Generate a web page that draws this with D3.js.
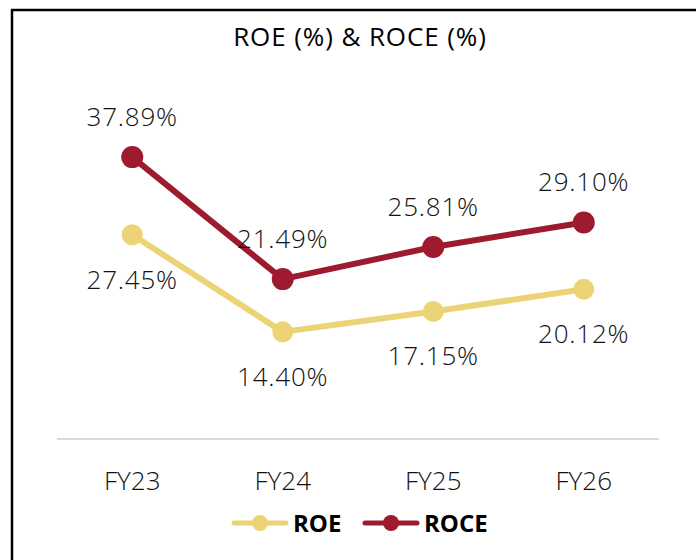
<!DOCTYPE html>
<html><head><meta charset="utf-8">
<script src="https://cdn.jsdelivr.net/npm/d3@7"></script>
<style>body{margin:0;background:#fff}svg{display:block}</style>
</head><body><svg id="c" width="696" height="560"></svg>
<script>
const categories = ["FY23","FY24","FY25","FY26"];
const roe = [27.45,14.40,17.15,20.12];
const roce = [37.89,21.49,25.81,29.10];
const seriesNames = ["ROE","ROCE"];
const title = "ROE (%) & ROCE (%)";

const svg = d3.select("#c");
const font = "'Open Sans', sans-serif";
const colors = {ROE:"#ecd476", ROCE:"#9e1a2e"};

svg.append("rect").attr("x",12).attr("y",10).attr("width",800).attr("height",700)
  .attr("fill","none").attr("stroke","#000").attr("stroke-width",2.5);

svg.append("text").attr("x",360).attr("y",46).attr("text-anchor","middle")
  .attr("font-family",font).attr("font-size",26).attr("letter-spacing",0.9).attr("fill","#000")
  .text(title);

const x = d3.scaleBand().domain(categories).range([57,659]);
const y = d3.scaleLinear().domain([0,40]).range([439,141.4]);
const cx = d => x(d) + x.bandwidth()/2;

svg.append("line").attr("x1",57).attr("x2",659).attr("y1",y(0)).attr("y2",y(0))
  .attr("stroke","#d9d9d9").attr("stroke-width",2);

const ax = svg.append("g").attr("transform",`translate(0,${y(0)})`)
  .call(d3.axisBottom(x).tickSize(0).tickPadding(0));
ax.select(".domain").remove();
ax.selectAll("text").attr("font-family",font).attr("font-size",26).attr("font-weight",350)
  .attr("fill","#111").attr("dy",0).attr("y",51);

const series = [
  {name:"ROE", values:roe, off:54},
  {name:"ROCE", values:roce, off:-31}
];
const line = d3.line().x((d,i)=>cx(categories[i])).y(d=>y(d));
series.forEach(s=>{
  const g = svg.append("g");
  g.append("path").attr("d",line(s.values)).attr("fill","none")
    .attr("stroke",colors[s.name]).attr("stroke-width",6).attr("stroke-linejoin","round");
  g.selectAll("circle").data(s.values).join("circle")
    .attr("cx",(d,i)=>cx(categories[i])).attr("cy",d=>y(d)).attr("r",s.name==="ROCE"?11:10.5)
    .attr("fill",colors[s.name]);
});
series.forEach(s=>{
  svg.append("g").selectAll("text").data(s.values).join("text")
    .attr("x",(d,i)=>cx(categories[i])).attr("y",d=>y(d)+s.off)
    .attr("text-anchor","middle").attr("font-family",font).attr("font-size",26).attr("font-weight",350)
    .attr("letter-spacing",0.8).attr("fill","#111")
    .text(d=>d.toFixed(2)+"%");
});

const leg = [{name:"ROE", x:232},{name:"ROCE", x:363}];
leg.forEach(l=>{
  const g = svg.append("g");
  g.append("line").attr("x1",l.x+2).attr("x2",l.x+54).attr("y1",523).attr("y2",523)
    .attr("stroke",colors[l.name]).attr("stroke-width",5).attr("stroke-linecap","round");
  g.append("circle").attr("cx",l.x+28).attr("cy",523).attr("r",8).attr("fill",colors[l.name]);
  g.append("text").attr("x",l.x+61).attr("y",532).attr("font-family",font).attr("font-size",24)
    .attr("font-weight","bold").attr("fill","#000").text(l.name);
});
</script></body></html>
